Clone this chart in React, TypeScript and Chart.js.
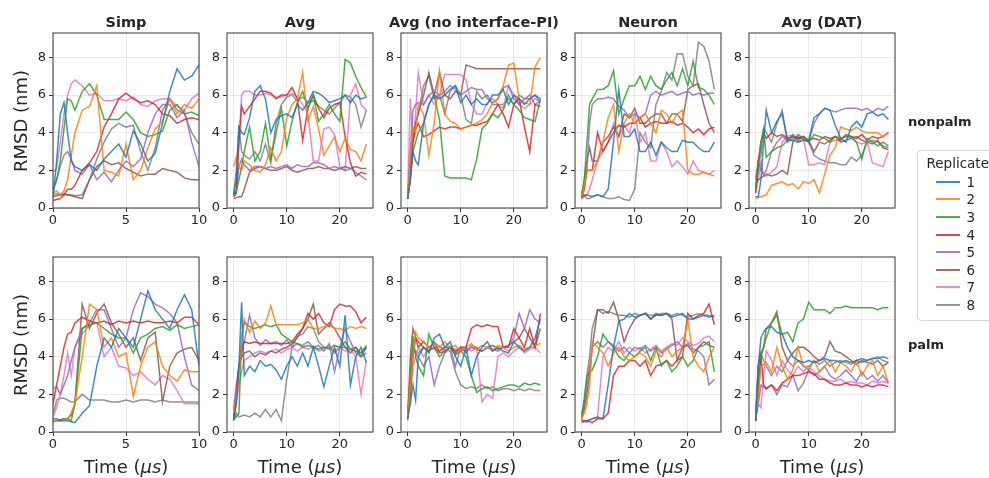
import React, { useEffect, useRef } from "react";
import { Chart, registerables } from "chart.js";

Chart.register(...registerables);

// ---------------- data ----------------
const REPLICATES = ["1", "2", "3", "4", "5", "6", "7", "8"];
const COLORS = ["#1f77b4", "#ff7f0e", "#2ca02c", "#d62728", "#9467bd", "#8c564b", "#e377c2", "#7f7f7f"];
const COLUMN_TITLES = ["Simp", "Avg", "Avg (no interface-PI)", "Neuron", "Avg (DAT)"];
const ROW_LABELS = ["nonpalm", "palm"];
const Y_TICKS = [0, 2, 4, 6, 8];
const Y_TICK_LABELS = ["0", "2", "4", "6", "8"];
const X_TICKS_SIMP = [0, 5, 10];
const X_TICK_LABELS_SIMP = ["0", "5", "10"];
const X_TICKS_LONG = [0, 10, 20];
const X_TICK_LABELS_LONG = ["0", "10", "20"];

// time (µs)
const T_SIMP = [0, 0.25, 0.5, 0.75, 1, 1.25, 1.5, 2, 2.5, 3, 3.5, 4, 4.5, 5, 5.5, 6, 6.5, 7, 7.5, 8, 8.5, 9, 9.5, 10];
const T_LONG = [0, 0.5, 1, 1.5, 2, 3, 4, 5, 6, 7, 8, 9, 10, 11, 12, 13, 14, 15, 16, 17, 18, 19, 20, 21, 22, 23, 24, 25];

// RMSD (nm), one row per replicate 1..8
const SIMP_NONPALM = [
  [0.5, 2.5, 5.0, 5.6, 4.0, 2.5, 2.2, 2.0, 2.3, 2.0, 2.6, 3.0, 3.4, 2.7, 4.1, 3.4, 2.5, 2.9, 4.5, 6.2, 7.4, 6.8, 7.0, 7.6],
  [0.8, 0.9, 0.7, 0.9, 1.5, 2.8, 4.0, 5.2, 5.4, 6.5, 2.0, 1.9, 1.7, 3.4, 1.5, 2.0, 3.2, 4.2, 4.6, 5.8, 5.0, 5.5, 5.3, 5.8],
  [0.9, 1.5, 2.5, 4.2, 5.8, 5.7, 5.2, 6.2, 6.6, 6.0, 4.7, 4.7, 4.7, 5.1, 4.7, 4.0, 3.8, 3.9, 4.1, 5.2, 5.5, 5.0, 5.1, 4.9],
  [0.4, 0.45, 0.5, 0.7, 1.0, 1.0, 1.2, 2.0, 2.4, 3.0, 4.3, 5.0, 5.8, 6.1, 5.8, 5.6, 5.7, 5.5, 5.0, 4.9, 4.5, 4.7, 4.8, 4.7],
  [1.0, 1.5, 2.2, 2.8, 3.0, 2.6, 2.0, 1.8, 2.3, 1.5, 1.9, 1.4, 2.0, 2.5, 2.2, 2.6, 4.0, 5.0, 5.5, 5.5, 4.8, 5.2, 3.5, 2.2],
  [0.6, 0.65, 0.7, 0.7, 0.7, 0.65, 0.6, 0.5, 1.5, 2.2, 2.5, 2.3, 2.4, 2.1, 1.9, 1.7, 1.8, 1.8, 2.1, 2.0, 1.9, 1.6, 1.5, 1.5],
  [1.9, 2.1, 3.5, 5.0, 6.0, 6.6, 6.8, 6.5, 6.0, 6.1, 5.7, 5.7, 5.8, 5.7, 5.9, 5.5, 5.4, 5.7, 5.8, 5.8, 5.4, 5.2, 5.8, 6.1],
  [0.7, 0.75, 0.7, 0.75, 0.7, 0.7, 0.65, 0.7, 1.5, 2.6, 3.5, 4.2, 4.5, 4.3, 4.4, 3.0, 2.0, 3.2, 5.2, 5.8, 5.2, 5.0, 4.0, 3.4],
];
const SIMP_PALM = [
  [0.7, 0.7, 0.6, 0.6, 0.6, 0.55, 0.5, 1.0, 1.4, 3.5, 5.0, 4.5, 5.5, 5.0, 4.5, 6.0, 7.5, 6.5, 6.0, 5.5, 6.5, 7.3, 6.5, 3.5],
  [0.6, 0.6, 0.6, 0.65, 0.7, 1.0, 1.5, 4.0, 6.8, 6.5, 4.5, 5.0, 4.0, 4.2, 1.9, 3.5, 4.5, 4.8, 3.5, 3.0, 2.7, 3.3, 3.2, 3.2],
  [0.6, 0.6, 0.6, 0.7, 0.7, 0.6, 1.5, 5.5, 5.7, 5.8, 5.5, 5.2, 5.0, 5.0, 4.2, 5.0, 5.2, 5.5, 5.6, 5.4, 5.7, 5.5, 5.6, 5.7],
  [1.5, 2.5, 3.5, 4.5, 5.2, 5.3, 5.8, 6.1, 5.9, 5.8, 5.9, 5.7, 5.9, 5.8, 5.9, 5.8, 5.9, 5.8, 5.8, 5.9, 5.8, 6.1, 6.1, 5.7],
  [2.3, 2.4, 2.0, 2.5, 3.0, 3.8, 4.5, 5.5, 5.8, 6.5, 6.5, 5.5, 4.5, 5.0, 6.5, 7.4, 7.2, 6.8, 6.6, 6.3, 5.8, 4.0, 2.5, 2.2],
  [0.6, 0.6, 0.65, 0.7, 0.7, 0.9, 1.5, 6.8, 5.5, 6.3, 6.8, 5.8, 5.2, 4.5, 5.0, 3.8, 5.0, 5.3, 1.6, 3.5, 4.2, 4.4, 4.5, 3.8],
  [0.8, 1.3, 2.0, 3.0, 4.2, 3.0, 4.5, 5.2, 5.7, 5.8, 4.0, 4.5, 3.5, 3.4, 3.0, 3.2, 2.8, 2.5, 3.0, 2.8, 2.2, 1.5, 1.5, 1.5],
  [0.9, 1.7, 1.8, 1.8, 1.7, 1.6, 1.6, 2.0, 1.7, 1.7, 1.7, 1.6, 1.6, 1.7, 1.6, 1.7, 1.7, 1.6, 1.7, 1.6, 1.6, 1.6, 1.6, 1.6],
];

const AVG_NONPALM = [
  [0.7, 1.5, 4.3, 4.0, 3.9, 4.8, 6.2, 6.5, 5.8, 4.0, 4.7, 4.9, 5.0, 4.8, 5.5, 5.2, 5.6, 6.2, 6.1, 5.9, 5.6, 5.7, 5.8, 6.0, 5.6, 6.0, 5.8, 5.9],
  [2.2, 2.7, 2.2, 2.0, 2.5, 2.3, 2.0, 1.9, 2.3, 3.2, 2.5, 3.0, 4.8, 5.5, 5.8, 7.2, 4.6, 5.4, 4.2, 2.8, 3.3, 3.8, 3.0, 3.7, 3.1, 3.0, 2.5, 3.4],
  [0.7, 0.9, 1.5, 2.2, 3.0, 4.3, 2.5, 3.0, 4.5, 2.6, 4.0, 5.3, 3.3, 4.6, 5.6, 6.2, 5.3, 6.0, 4.6, 5.0, 5.5, 5.0, 4.6, 7.9, 7.7, 7.0, 6.4, 5.9],
  [0.6, 0.8, 3.5, 5.4, 5.0, 5.4, 5.8, 6.2, 6.2, 6.1, 5.8, 6.0, 6.0, 6.4, 5.8, 3.6, 5.3, 6.0, 5.3, 4.8, 5.3, 5.5, 5.6, 3.8, 2.4, 1.7, 1.9, 1.8],
  [0.6, 0.8, 2.2, 2.6, 2.3, 2.0, 2.2, 2.2, 2.1, 2.2, 2.1, 2.2, 2.3, 2.1, 2.3, 2.2, 2.2, 2.4, 2.4, 2.3, 2.1, 2.2, 2.1, 2.0, 2.1, 1.9, 1.7, 1.5],
  [0.5, 0.55, 0.6, 0.6, 1.0, 1.9, 2.1, 2.2, 2.1, 2.0, 2.0, 2.1, 2.2, 2.0, 1.9, 2.0, 2.1, 2.1, 2.2, 2.1, 2.1, 2.0, 2.1, 2.2, 2.1, 2.2, 2.1, 2.1],
  [0.8, 1.5, 3.5, 6.0, 6.2, 6.2, 6.0, 6.0, 6.1, 6.0, 5.9, 5.9, 6.0, 6.1, 5.9, 5.5, 5.0, 2.5, 2.5, 4.2, 4.3, 3.9, 2.2, 2.0, 6.0, 6.6, 5.5, 5.2],
  [0.7, 2.0, 4.4, 3.0, 2.8, 2.6, 3.0, 2.5, 3.4, 2.4, 4.5, 5.5, 5.9, 6.0, 5.7, 5.9, 5.6, 5.7, 5.4, 5.2, 5.0, 5.3, 5.6, 6.0, 5.9, 5.5, 4.3, 5.2],
];
const AVG_PALM = [
  [0.6, 1.5, 3.5, 6.9, 3.0, 3.5, 3.2, 3.8, 3.5, 3.6, 3.3, 2.8, 3.5, 4.0, 3.5, 4.2, 3.5, 4.5, 3.5, 2.4, 3.5, 4.5, 3.5, 6.2, 2.5, 4.0, 4.5, 3.7],
  [1.0, 2.0, 3.0, 5.0, 6.0, 5.3, 5.9, 5.5, 5.8, 6.7, 5.7, 5.7, 5.7, 5.7, 5.7, 5.8, 6.0, 5.5, 5.5, 5.6, 5.7, 5.5, 5.5, 5.4, 5.6, 5.5, 5.6, 5.5],
  [0.7, 0.8, 1.0, 5.0, 5.8, 5.6, 5.5, 5.6, 5.7, 5.6, 5.7, 5.2, 5.0, 4.8, 4.7, 4.5, 4.6, 4.5, 4.4, 4.5, 4.4, 4.6, 4.5, 4.8, 4.4, 4.3, 4.2, 4.6],
  [0.7, 2.0, 3.5, 4.5, 4.8, 4.7, 4.8, 4.7, 4.7, 4.7, 4.7, 4.7, 4.7, 4.8, 5.2, 5.5, 6.3, 6.0, 6.3, 5.8, 5.6, 6.5, 6.8, 6.7, 6.7, 6.4, 5.8, 6.1],
  [1.2, 2.5, 3.5, 4.2, 4.8, 6.2, 5.0, 4.6, 4.9, 4.7, 4.8, 4.6, 4.9, 4.5, 4.7, 4.6, 4.8, 4.5, 4.6, 4.3, 4.7, 3.2, 4.5, 5.5, 4.8, 4.2, 4.0, 4.2],
  [0.8, 2.0, 3.5, 4.0, 4.2, 4.3, 4.0, 4.2, 4.1, 4.3, 4.2, 4.4, 4.5, 4.7, 5.0, 5.5, 6.0, 6.8, 5.2, 5.5, 5.8, 5.5, 5.0, 4.5, 4.2, 4.5, 4.0, 4.5],
  [0.8, 1.5, 2.5, 3.2, 3.8, 4.0, 4.2, 4.3, 4.2, 4.3, 4.4, 4.2, 4.4, 4.5, 4.3, 4.5, 4.4, 4.5, 4.3, 4.4, 4.6, 4.3, 4.5, 4.3, 4.4, 4.0, 2.0, 3.8],
  [0.6, 1.0, 0.8, 0.85, 0.9, 0.8, 1.0, 0.8, 1.2, 0.8, 1.2, 0.6, 2.8, 4.5, 5.1, 5.2, 5.6, 5.5, 4.8, 4.5, 4.5, 4.2, 4.5, 4.5, 4.4, 4.5, 4.2, 4.5],
];

const NOPI_NONPALM = [
  [0.5, 1.5, 3.0, 2.5, 2.3, 4.5, 5.5, 6.0, 5.8, 6.0, 6.3, 6.5, 5.6, 6.0, 5.5, 5.8, 5.5, 5.5, 6.0, 6.0, 6.3, 5.5, 6.0, 5.8, 5.5, 5.8, 6.0, 5.8],
  [0.5, 2.5, 4.3, 4.0, 5.5, 5.0, 2.8, 4.5, 7.3, 5.0, 4.6, 4.5, 4.2, 4.3, 4.4, 4.5, 4.7, 5.0, 5.6, 5.8, 6.5, 7.6, 7.7, 5.8, 5.6, 5.5, 7.5, 8.0],
  [0.5, 1.5, 3.0, 3.5, 4.0, 4.5, 5.5, 6.0, 4.7, 1.7, 1.6, 1.6, 1.6, 1.6, 1.5, 2.6, 4.2, 4.5, 5.0, 4.8, 5.2, 6.0, 5.5, 5.2, 4.8, 4.7, 4.6, 5.8],
  [0.5, 2.0, 3.5, 4.2, 4.5, 3.8, 3.9, 4.1, 4.3, 4.2, 4.3, 4.3, 4.2, 4.3, 4.4, 4.4, 4.5, 4.6, 5.0, 5.5, 5.0, 4.3, 5.5, 5.8, 4.3, 3.0, 5.5, 5.4],
  [0.5, 3.0, 5.2, 5.5, 5.6, 5.5, 6.0, 6.2, 6.0, 6.2, 6.5, 6.3, 6.0, 6.2, 6.4, 6.3, 6.3, 5.8, 5.6, 5.8, 6.4, 6.5, 5.8, 5.5, 5.8, 6.0, 5.5, 5.7],
  [0.5, 1.5, 3.5, 4.5, 5.0, 6.0, 7.2, 6.0, 7.2, 6.0, 5.8, 6.2, 6.0, 7.6, 7.5, 7.4, 7.4, 7.4, 7.4, 7.4, 7.4, 7.4, 7.4, 7.4, 7.4, 7.4, 7.4, 7.4],
  [0.5, 5.8, 3.5, 5.0, 7.2, 5.5, 6.0, 5.5, 6.0, 7.1, 7.1, 7.1, 7.1, 6.8, 5.5, 5.0, 5.0, 5.6, 5.8, 5.5, 5.3, 6.5, 6.0, 5.5, 5.3, 5.5, 5.8, 5.6],
  [0.5, 2.0, 4.0, 4.5, 5.0, 6.5, 7.0, 5.8, 6.0, 5.0, 6.2, 6.5, 6.0, 4.7, 4.5, 6.2, 5.8, 6.0, 5.5, 5.5, 5.5, 5.8, 5.5, 6.0, 5.8, 5.8, 6.0, 5.6],
];
const NOPI_PALM = [
  [0.7, 1.5, 2.5, 1.7, 4.0, 4.5, 4.2, 5.0, 5.2, 4.5, 4.8, 4.0, 3.5, 4.5, 3.0, 4.0, 4.5, 4.8, 4.3, 4.5, 4.3, 4.2, 4.8, 4.5, 4.3, 4.5, 5.0, 6.0],
  [0.8, 2.5, 4.0, 5.3, 5.0, 4.8, 4.5, 4.7, 4.5, 4.8, 4.5, 4.6, 4.3, 4.5, 4.7, 4.4, 4.6, 4.5, 4.3, 4.6, 4.5, 4.3, 4.5, 4.6, 4.4, 4.5, 4.6, 4.7],
  [0.8, 3.0, 5.1, 4.0, 3.5, 3.0, 5.2, 4.5, 4.0, 4.3, 4.5, 4.1, 4.3, 4.0, 3.0, 2.1, 2.3, 2.4, 2.2, 2.3, 2.4, 2.5, 2.5, 2.4, 2.6, 2.5, 2.6, 2.5],
  [0.7, 2.0, 4.0, 5.0, 4.5, 4.8, 4.5, 4.7, 4.3, 4.5, 4.5, 4.3, 4.5, 4.5, 5.5, 5.7, 5.6, 5.7, 5.6, 5.6, 4.5, 4.5, 5.5, 5.0, 4.5, 5.5, 4.5, 6.3],
  [1.0, 2.5, 4.5, 4.2, 4.0, 3.5, 4.0, 2.5, 3.5, 4.2, 4.5, 3.5, 4.5, 4.2, 4.6, 4.5, 4.3, 4.5, 4.4, 4.3, 4.5, 4.6, 5.0, 6.3, 5.5, 6.5, 6.0, 5.8],
  [0.7, 4.0, 5.5, 5.0, 4.8, 4.5, 4.3, 4.5, 4.2, 4.3, 4.5, 4.2, 4.4, 4.3, 4.5, 4.4, 4.3, 4.5, 4.6, 4.4, 4.5, 4.6, 4.8, 5.0, 5.5, 5.0, 4.5, 5.5],
  [0.6, 2.0, 3.5, 4.0, 4.5, 4.0, 4.5, 4.4, 4.6, 4.2, 4.5, 4.4, 4.3, 4.5, 4.3, 4.5, 1.6, 2.0, 1.8, 4.0, 4.2, 4.0, 4.3, 4.5, 4.2, 4.4, 4.5, 4.2],
  [0.8, 2.5, 4.5, 4.3, 4.2, 4.5, 4.3, 4.8, 4.5, 4.4, 4.3, 3.2, 2.5, 2.3, 2.4, 2.3, 2.5, 2.3, 2.4, 2.2, 2.3, 2.3, 2.2, 2.3, 2.2, 2.3, 2.2, 2.2],
];

const NEURON_NONPALM = [
  [0.6, 0.65, 0.7, 0.65, 0.6, 0.7, 0.6, 1.0, 3.5, 6.3, 3.8, 3.8, 4.2, 3.0, 3.0, 3.5, 2.8, 3.5, 3.2, 3.0, 3.0, 3.6, 3.5, 3.5, 3.2, 3.0, 3.0, 3.5],
  [0.5, 1.2, 2.0, 2.0, 2.0, 2.5, 3.5, 4.8, 5.5, 3.0, 4.5, 5.0, 4.5, 4.8, 5.0, 4.5, 4.0, 5.2, 5.0, 4.5, 5.0, 5.2, 2.0, 1.8, 1.8, 1.9, 1.8, 1.7],
  [0.6, 1.5, 3.5, 5.5, 5.8, 6.3, 6.3, 6.5, 7.3, 5.0, 5.8, 6.5, 6.5, 7.0, 6.3, 7.0, 6.5, 6.3, 6.8, 7.2, 6.5, 7.4, 6.5, 7.8, 6.4, 6.3, 6.0, 5.5],
  [0.5, 1.0, 2.0, 2.0, 2.0, 4.0, 3.0, 3.5, 4.0, 4.4, 4.3, 4.5, 4.5, 4.8, 4.3, 4.5, 4.6, 4.5, 4.5, 4.6, 4.4, 4.5, 4.3, 4.0, 4.2, 3.9, 4.2, 4.3],
  [0.8, 1.2, 2.0, 4.5, 5.5, 5.8, 5.8, 5.9, 5.8, 5.4, 5.2, 4.8, 5.0, 4.8, 5.0, 6.0, 6.2, 6.0, 6.1, 6.2, 6.0, 6.1, 6.2, 6.0, 6.1, 6.0, 6.1, 6.1],
  [0.6, 1.5, 2.5, 3.2, 2.5, 2.5, 3.5, 3.8, 4.3, 3.8, 5.0, 4.8, 5.3, 4.5, 4.5, 4.8, 5.0, 5.0, 4.5, 5.0, 5.0, 4.6, 6.3, 6.5, 6.6, 5.5, 4.5, 4.0],
  [0.5, 0.6, 0.7, 1.0, 1.5, 2.5, 3.0, 3.5, 4.5, 3.8, 4.4, 4.0, 5.0, 3.5, 4.0, 2.5, 2.5, 3.5, 3.0, 2.2, 2.5, 2.2, 1.8, 2.5, 2.0, 1.9, 1.8, 2.0],
  [0.6, 0.7, 0.5, 0.5, 0.6, 0.7, 0.6, 0.5, 0.5, 0.6, 0.45, 0.4, 1.0, 4.0, 3.5, 3.2, 5.5, 6.2, 7.2, 6.8, 8.2, 8.2, 7.0, 6.5, 8.8, 8.6, 7.8, 6.3],
];
const NEURON_PALM = [
  [0.5, 0.55, 0.6, 0.65, 0.7, 0.8, 0.7, 2.5, 4.5, 5.9, 6.0, 6.3, 6.1, 6.2, 6.3, 6.0, 6.2, 6.2, 6.3, 6.1, 6.2, 6.3, 6.0, 6.0, 6.1, 6.2, 6.1, 6.2],
  [0.7, 1.0, 1.5, 2.5, 4.8, 4.5, 4.2, 3.5, 4.2, 4.5, 4.0, 3.8, 4.0, 4.2, 4.0, 3.5, 4.3, 4.0, 4.5, 4.0, 4.3, 4.5, 6.0, 4.0, 3.5, 3.2, 4.0, 4.5],
  [0.8, 1.8, 3.0, 3.2, 3.3, 4.0, 5.2, 4.8, 4.5, 4.0, 3.8, 4.2, 4.0, 4.3, 4.5, 3.8, 4.5, 3.5, 3.8, 3.2, 3.5, 4.0, 3.5, 3.8, 4.5, 4.6, 4.8, 3.2],
  [0.6, 0.6, 0.6, 0.55, 0.5, 0.7, 0.7, 1.0, 3.0, 3.5, 3.5, 3.8, 3.8, 3.5, 3.8, 3.0, 3.5, 3.6, 3.8, 3.5, 3.8, 4.0, 6.3, 6.0, 6.2, 6.3, 6.8, 5.7],
  [0.6, 1.5, 2.5, 3.5, 4.5, 4.8, 4.5, 4.8, 4.6, 4.3, 4.5, 4.2, 4.5, 4.4, 4.6, 4.3, 4.5, 4.2, 4.4, 4.6, 4.8, 4.5, 4.7, 4.4, 4.3, 4.0, 2.5, 2.8],
  [0.8, 1.2, 2.0, 3.0, 4.5, 6.5, 6.5, 6.3, 6.9, 6.0, 4.8, 5.5, 6.0, 6.2, 6.3, 6.0, 6.3, 6.2, 6.3, 6.0, 3.8, 4.5, 4.6, 4.2, 4.5, 4.8, 4.6, 4.5],
  [0.6, 0.55, 0.5, 0.6, 0.7, 0.8, 4.0, 4.5, 4.3, 4.8, 4.2, 4.5, 4.3, 4.5, 4.2, 4.4, 4.6, 4.3, 4.5, 4.7, 4.6, 5.0, 4.8, 4.6, 4.7, 5.0, 5.1, 4.8],
  [1.0, 1.5, 3.0, 4.0, 5.5, 6.5, 6.3, 6.4, 6.3, 6.2, 6.2, 6.1, 6.3, 6.2, 6.3, 6.2, 6.2, 6.3, 6.3, 6.2, 6.3, 6.2, 6.1, 6.2, 6.3, 6.2, 6.2, 6.1],
];

const DAT_NONPALM = [
  [0.6, 0.6, 1.5, 3.5, 5.2, 4.0, 4.6, 5.0, 3.6, 3.6, 3.5, 3.6, 3.6, 4.8, 5.0, 5.3, 5.2, 4.4, 3.7, 3.5, 4.3, 4.6, 4.3, 5.0, 5.1, 4.9, 5.0, 4.7],
  [0.5, 0.55, 0.6, 0.65, 0.7, 1.2, 1.3, 1.4, 1.2, 1.3, 1.0, 1.4, 1.3, 1.5, 0.8, 1.8, 2.8, 3.2, 4.3, 4.2, 4.1, 4.3, 4.1, 4.0, 4.0, 4.0, 3.8, 4.0],
  [1.0, 2.0, 3.5, 4.2, 2.7, 3.0, 3.2, 3.3, 3.6, 3.8, 3.6, 3.8, 3.5, 3.9, 3.8, 3.7, 3.5, 3.8, 3.7, 3.8, 3.8, 3.5, 2.6, 3.7, 3.5, 3.3, 3.5, 3.3],
  [0.8, 2.5, 3.5, 4.0, 3.7, 4.0, 3.8, 3.9, 3.7, 3.8, 3.7, 3.8, 3.6, 3.7, 3.6, 3.8, 3.7, 3.8, 3.6, 3.9, 3.8, 3.7, 3.9, 3.6, 3.8, 3.7, 3.8, 4.0],
  [1.5, 2.5, 2.0, 1.8, 2.0, 3.0, 3.5, 3.8, 3.6, 3.9, 3.7, 3.8, 3.5, 4.5, 5.0, 5.3, 5.2, 5.1, 5.2, 5.3, 5.3, 5.3, 5.2, 5.3, 5.1, 5.3, 5.2, 5.4],
  [1.3, 1.5, 1.6, 1.7, 1.8, 1.7, 1.8, 2.0, 1.8, 3.5, 3.9, 3.7, 3.6, 3.0, 3.5, 3.4, 3.6, 3.8, 3.5, 3.6, 3.7, 3.8, 3.6, 3.5, 3.4, 3.6, 3.2, 3.1],
  [0.8, 1.5, 2.5, 1.7, 1.7, 1.9, 2.2, 3.5, 3.8, 3.9, 3.5, 3.7, 2.3, 2.3, 2.4, 2.3, 3.5, 3.6, 3.7, 3.8, 3.7, 3.5, 3.4, 3.5, 2.4, 2.3, 2.2, 3.0],
  [1.0, 2.5, 2.8, 4.2, 4.0, 3.5, 4.5, 5.2, 3.5, 3.7, 3.8, 3.6, 3.5, 2.8, 2.6, 2.5, 2.4, 2.4, 2.3, 2.3, 2.7, 2.5, 2.8, 3.5, 3.6, 3.5, 3.3, 3.2],
];
const DAT_PALM = [
  [0.6, 3.5, 5.0, 5.3, 5.5, 5.6, 5.3, 5.2, 4.5, 4.0, 3.8, 3.7, 3.8, 3.7, 3.8, 3.9, 3.8, 3.8, 3.7, 3.8, 3.7, 3.8, 3.9, 3.8, 3.9, 3.9, 4.0, 3.9],
  [0.7, 2.0, 3.5, 3.6, 3.7, 3.2, 4.5, 3.5, 2.8, 3.3, 4.5, 3.5, 3.5, 3.8, 3.2, 3.5, 3.8, 3.2, 3.7, 3.5, 3.2, 3.8, 3.0, 3.5, 3.8, 3.0, 3.5, 2.6],
  [0.6, 3.5, 4.2, 4.5, 5.0, 5.8, 6.2, 5.2, 5.3, 4.8, 5.8, 6.0, 6.9, 6.5, 6.5, 6.5, 6.3, 6.6, 6.6, 6.7, 6.6, 6.6, 6.6, 6.6, 6.6, 6.5, 6.6, 6.6],
  [0.6, 2.0, 4.0, 2.5, 2.3, 2.5, 2.2, 2.6, 2.8, 3.0, 3.0, 3.1, 3.2, 3.1, 2.8, 2.8, 2.6, 2.5, 2.5, 2.6, 2.5, 2.5, 2.4, 2.5, 2.4, 2.5, 2.5, 2.4],
  [0.6, 1.5, 2.5, 2.4, 2.3, 2.5, 2.0, 2.5, 2.4, 3.0, 2.2, 2.6, 3.3, 3.0, 3.2, 3.5, 3.0, 2.8, 3.0, 3.3, 3.0, 2.7, 3.2, 2.8, 3.0, 2.7, 3.0, 2.6],
  [0.6, 2.5, 4.0, 4.5, 5.5, 5.8, 6.4, 4.5, 3.8, 4.2, 4.5, 4.5, 4.3, 4.0, 3.8, 4.0, 4.8, 4.3, 4.2, 4.0, 3.8, 3.6, 3.8, 3.7, 3.6, 3.8, 3.5, 3.7],
  [0.8, 1.5, 1.3, 3.0, 4.3, 3.8, 3.0, 3.8, 3.3, 3.0, 3.5, 3.2, 3.5, 3.2, 3.0, 2.8, 2.7, 2.7, 2.8, 2.6, 2.7, 2.6, 2.6, 2.5, 2.7, 2.6, 2.7, 2.6],
  [1.0, 3.5, 4.2, 3.8, 3.5, 3.0, 3.5, 3.2, 3.8, 3.5, 3.8, 3.5, 3.3, 3.8, 3.6, 3.8, 3.5, 3.7, 3.8, 3.7, 3.6, 3.8, 3.7, 3.8, 3.9, 4.0, 3.8, 3.7],
];

// ---------------- layout ----------------
const FONT = '"DejaVu Sans", "Liberation Sans", sans-serif';
const TEXT = "#262626";
const PLOT_LEFTS = [53, 227, 401, 575, 749];
const PLOT_W = 146;
const ROW_TOPS = [33, 257];
const PLOT_H = 175;
const Y_MAX = 9.3;
const YW = 44; // space for y tick labels inside each canvas
const PT = 14;
const PR = 14;
const XH = 28;

const COLUMNS = [
  { time: T_SIMP, xMin: 0, xMax: 10, xTicks: X_TICKS_SIMP, xLabels: X_TICK_LABELS_SIMP, rows: [SIMP_NONPALM, SIMP_PALM] },
  { time: T_LONG, xMin: -1.25, xMax: 26.25, xTicks: X_TICKS_LONG, xLabels: X_TICK_LABELS_LONG, rows: [AVG_NONPALM, AVG_PALM] },
  { time: T_LONG, xMin: -1.25, xMax: 26.25, xTicks: X_TICKS_LONG, xLabels: X_TICK_LABELS_LONG, rows: [NOPI_NONPALM, NOPI_PALM] },
  { time: T_LONG, xMin: -1.25, xMax: 26.25, xTicks: X_TICKS_LONG, xLabels: X_TICK_LABELS_LONG, rows: [NEURON_NONPALM, NEURON_PALM] },
  { time: T_LONG, xMin: -1.25, xMax: 26.25, xTicks: X_TICKS_LONG, xLabels: X_TICK_LABELS_LONG, rows: [DAT_NONPALM, DAT_PALM] },
];

function withAlpha(hex: string, a: number) {
  const n = parseInt(hex.slice(1), 16);
  return `rgba(${(n >> 16) & 255},${(n >> 8) & 255},${n & 255},${a})`;
}

const framePlugin = {
  id: "frame",
  afterDatasetsDraw(chart: any) {
    const { ctx, chartArea: a } = chart;
    ctx.save();
    ctx.strokeStyle = "#555555";
    ctx.lineWidth = 1.2;
    ctx.strokeRect(a.left, a.top, a.right - a.left, a.bottom - a.top);
    ctx.restore();
  },
};

type PanelProps = {
  left: number;
  top: number;
  time: number[];
  series: number[][];
  xMin: number;
  xMax: number;
  xTicks: number[];
  xLabels: string[];
};

function Panel({ left, top, time, series, xMin, xMax, xTicks, xLabels }: PanelProps) {
  const ref = useRef<HTMLCanvasElement>(null);
  const W = YW + PLOT_W + PR;
  const H = PT + PLOT_H + XH;
  useEffect(() => {
    const tickFont = { family: FONT, size: 13 };
    const chart = new Chart(ref.current as HTMLCanvasElement, {
      type: "line",
      data: {
        datasets: series.map((ys, i) => ({
          label: REPLICATES[i],
          data: ys.map((y, j) => ({ x: time[j], y })),
          borderColor: withAlpha(COLORS[i], 0.85),
          borderWidth: 1.5,
          pointRadius: 0,
          tension: 0,
          fill: false,
        })),
      },
      options: {
        responsive: false,
        animation: false,
        devicePixelRatio: 1,
        events: [],
        layout: { padding: { left: 0, top: PT, right: PR, bottom: 0 } },
        plugins: { legend: { display: false }, tooltip: { enabled: false }, title: { display: false } },
        scales: {
          x: {
            type: "linear",
            min: xMin,
            max: xMax,
            afterBuildTicks: (s: any) => {
              s.ticks = xTicks.map((v) => ({ value: v }));
            },
            afterFit: (s: any) => {
              s.height = XH;
            },
            border: { display: false },
            grid: { color: "rgba(0,0,0,0.08)", tickColor: "#333", tickLength: 4, tickWidth: 1 },
            ticks: {
              font: tickFont,
              color: TEXT,
              padding: 1,
              maxRotation: 0,
              autoSkip: false,
              callback: (_v: any, i: number) => xLabels[i],
            },
          },
          y: {
            type: "linear",
            min: 0,
            max: Y_MAX,
            afterBuildTicks: (s: any) => {
              s.ticks = Y_TICKS.map((v) => ({ value: v }));
            },
            afterFit: (s: any) => {
              s.width = YW;
            },
            border: { display: false },
            grid: { color: "rgba(0,0,0,0.08)", tickColor: "#333", tickLength: 4, tickWidth: 1 },
            ticks: {
              font: tickFont,
              color: TEXT,
              padding: 3,
              autoSkip: false,
              callback: (_v: any, i: number) => Y_TICK_LABELS[i],
            },
          },
        },
      },
      plugins: [framePlugin],
    } as any);
    return () => chart.destroy();
  }, []);
  return (
    <canvas
      ref={ref}
      width={W}
      height={H}
      style={{ position: "absolute", left: left - YW, top: top - PT, width: W, height: H }}
    />
  );
}

export default function App() {
  const legendTop = 150;
  return (
    <div
      style={{
        position: "absolute",
        left: 0,
        top: 0,
        width: 989,
        height: 478,
        overflow: "hidden",
        background: "#ffffff",
        fontFamily: FONT,
        color: TEXT,
      }}
    >
      {COLUMNS.map((col, c) =>
        col.rows.map((series, r) => (
          <Panel
            key={`${c}-${r}`}
            left={PLOT_LEFTS[c]}
            top={ROW_TOPS[r]}
            time={col.time}
            series={series}
            xMin={col.xMin}
            xMax={col.xMax}
            xTicks={col.xTicks}
            xLabels={col.xLabels}
          />
        ))
      )}

      {COLUMN_TITLES.map((t, c) => (
        <div
          key={t}
          style={{
            position: "absolute",
            left: PLOT_LEFTS[c] + PLOT_W / 2,
            top: 21.5,
            transform: "translate(-50%, -50%)",
            whiteSpace: "nowrap",
            fontWeight: "bold",
            fontSize: 14.5,
            lineHeight: "18px",
          }}
        >
          {t}
        </div>
      ))}

      {PLOT_LEFTS.map((x, c) => (
        <div
          key={`xl${c}`}
          style={{
            position: "absolute",
            left: x + PLOT_W / 2,
            top: 467,
            transform: "translate(-50%, -50%)",
            whiteSpace: "nowrap",
            fontSize: 18,
            lineHeight: "22px",
          }}
        >
          Time (<i>μs</i>)
        </div>
      ))}

      {ROW_TOPS.map((y, r) => (
        <div
          key={`yl${r}`}
          style={{
            position: "absolute",
            left: 21,
            top: y + PLOT_H / 2,
            transform: "translate(-50%, -50%) rotate(-90deg)",
            whiteSpace: "nowrap",
            fontSize: 18,
            lineHeight: "22px",
          }}
        >
          RMSD (nm)
        </div>
      ))}

      {ROW_LABELS.map((t, r) => (
        <div
          key={t}
          style={{
            position: "absolute",
            left: 908,
            top: r === 0 ? 121.5 : 345,
            transform: "translateY(-50%)",
            whiteSpace: "nowrap",
            fontWeight: "bold",
            fontSize: 13,
            lineHeight: "16px",
          }}
        >
          {t}
        </div>
      ))}

      <div
        style={{
          position: "absolute",
          left: 917,
          top: legendTop,
          width: 90,
          height: 171,
          border: "1px solid #d4d4d4",
          borderRadius: 4,
          background: "rgba(255,255,255,0.85)",
          boxSizing: "border-box",
        }}
      />
      <div
        style={{
          position: "absolute",
          left: 926.5,
          top: 163,
          transform: "translateY(-50%)",
          fontSize: 13.5,
          lineHeight: "16px",
          whiteSpace: "nowrap",
        }}
      >
        Replicate
      </div>
      {REPLICATES.map((rep, i) => {
        const cy = 181.7 + i * 17.6;
        return (
          <React.Fragment key={rep}>
            <div
              style={{
                position: "absolute",
                left: 936,
                top: cy - 1,
                width: 24,
                height: 2,
                background: withAlpha(COLORS[i], 0.85),
              }}
            />
            <div
              style={{
                position: "absolute",
                left: 966.5,
                top: cy,
                transform: "translateY(-50%)",
                fontSize: 13.5,
                lineHeight: "16px",
              }}
            >
              {rep}
            </div>
          </React.Fragment>
        );
      })}
    </div>
  );
}
